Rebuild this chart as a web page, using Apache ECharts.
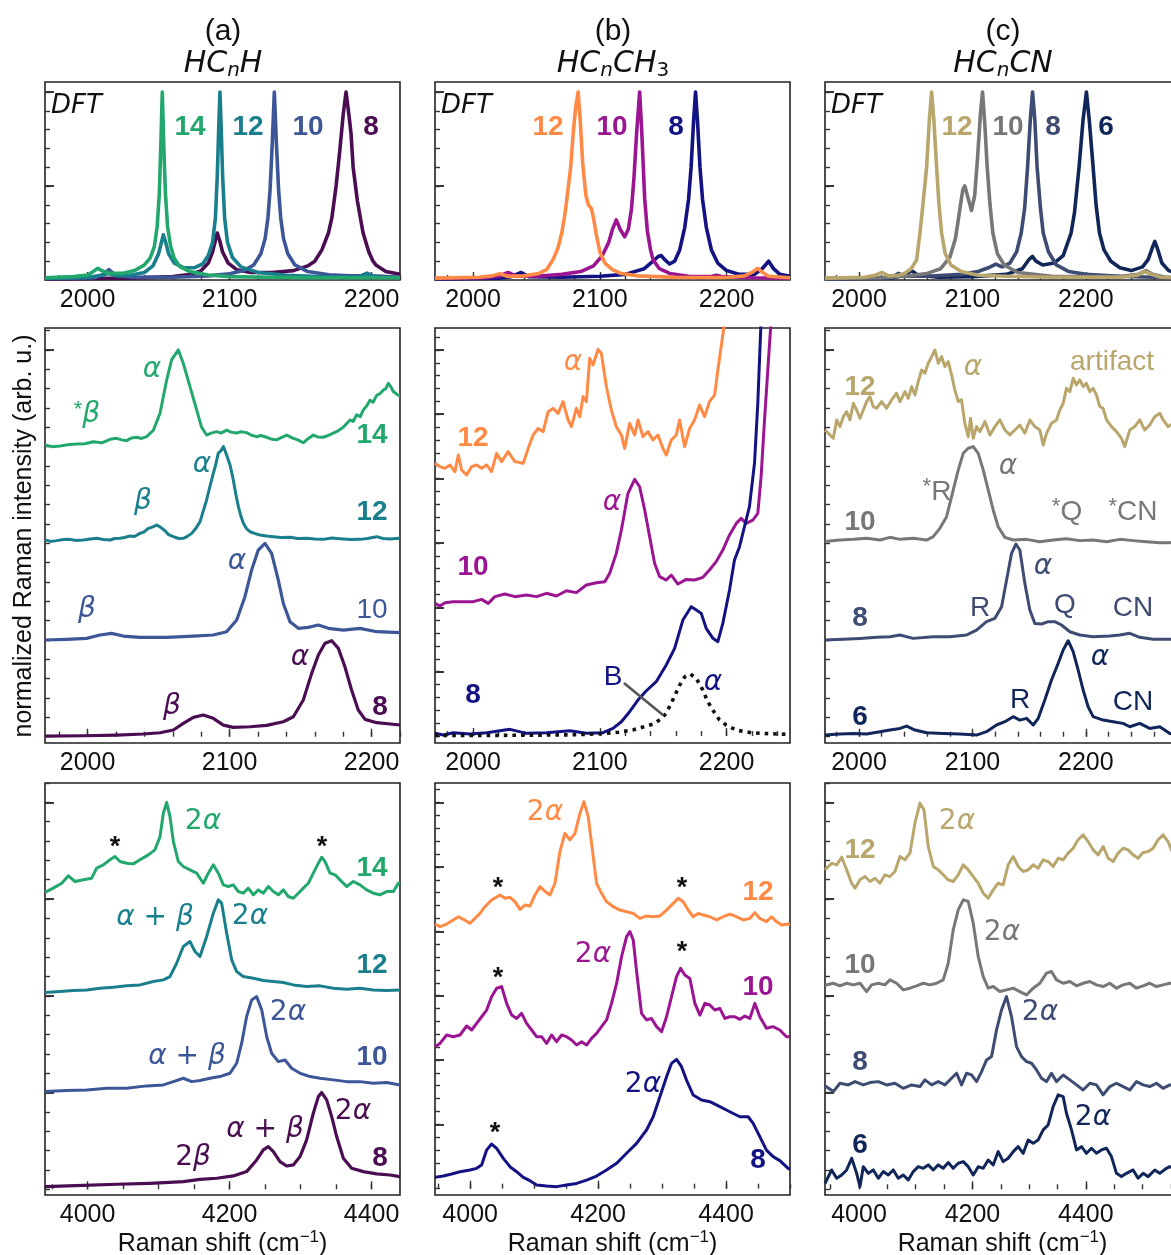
<!DOCTYPE html>
<html><head><meta charset="utf-8">
<script src="https://cdn.jsdelivr.net/npm/echarts@6/dist/echarts.min.js"></script>
<style>html,body{margin:0;padding:0;background:#fff}#c{width:1171px;height:1255px}</style>
</head><body><div id="c"></div><script>
// ---------- DFT spectra (row 1) ----------
const dftHC14 = [[1970,0.012],[1990,0.018],[2000,0.027],[2004,0.045],[2007,0.062],[2010,0.05],[2015,0.036],[2025,0.036],[2033,0.05],[2040,0.08],[2044,0.116],[2047,0.178],[2049,0.285],[2050.5,0.46],[2051.5,0.7],[2052.6,1.0],[2053.7,0.7],[2054.8,0.46],[2056.3,0.285],[2058.5,0.178],[2061,0.116],[2065,0.071],[2072,0.045],[2085,0.027],[2100,0.018],[2150,0.012],[2220,0.012]];
const dftHC12 = [[1970,0.01],[2000,0.014],[2010,0.025],[2014.6,0.035],[2020,0.022],[2030,0.025],[2040,0.04],[2046,0.075],[2050,0.14],[2052,0.2],[2053.3,0.24],[2055,0.2],[2057,0.14],[2061,0.09],[2068,0.065],[2075,0.065],[2081,0.085],[2085,0.13],[2088,0.2],[2090,0.33],[2091.3,0.55],[2092.3,0.8],[2093.2,1.0],[2094.1,0.8],[2095.1,0.55],[2096.5,0.33],[2098.5,0.2],[2102,0.12],[2108,0.07],[2120,0.04],[2140,0.025],[2170,0.016],[2190,0.016],[2194,0.025],[2196.5,0.035],[2199,0.025],[2205,0.015],[2220,0.012]];
const dftHC10 = [[1970,0.008],[2005,0.012],[2011,0.03],[2015,0.055],[2019,0.03],[2030,0.015],[2060,0.015],[2085,0.022],[2100,0.033],[2110,0.05],[2117,0.08],[2122,0.14],[2125,0.22],[2127,0.33],[2128.5,0.48],[2130,0.72],[2131.5,1.0],[2133,0.72],[2134.5,0.48],[2136,0.33],[2138,0.22],[2141,0.14],[2146,0.08],[2155,0.045],[2170,0.028],[2185,0.022],[2193,0.024],[2197,0.035],[2201,0.022],[2220,0.014]];
const dftHC8 = [[1970,0.006],[2030,0.01],[2060,0.018],[2073,0.03],[2080,0.05],[2085,0.09],[2088,0.15],[2090,0.21],[2091.3,0.25],[2093,0.21],[2095,0.15],[2099,0.09],[2105,0.055],[2115,0.04],[2130,0.04],[2145,0.05],[2155,0.075],[2160,0.1],[2165,0.16],[2169.6,0.25],[2172,0.33],[2175,0.5],[2177.5,0.68],[2180,0.88],[2182,1.0],[2184,0.88],[2185.5,0.78],[2187,0.6],[2190,0.42],[2194,0.25],[2198,0.15],[2201,0.1],[2203,0.08],[2210,0.045],[2220,0.03]];
const dftMe12 = [[1970,0.01],[2005,0.015],[2015,0.022],[2021,0.034],[2027,0.02],[2040,0.022],[2052,0.035],[2058,0.055],[2063,0.107],[2067,0.17],[2070,0.25],[2072,0.33],[2074,0.43],[2077,0.6],[2079,0.78],[2081,0.92],[2082.9,1.0],[2084.5,0.85],[2086.5,0.62],[2089,0.45],[2091,0.4],[2093.4,0.38],[2095,0.33],[2097,0.25],[2100,0.15],[2104,0.09],[2110,0.055],[2116,0.036],[2130,0.022],[2160,0.014],[2200,0.013],[2214,0.022],[2220,0.04],[2224.6,0.062],[2228,0.042],[2233,0.02],[2250,0.012]];
const dftMe10 = [[1970,0.008],[2010,0.012],[2020,0.02],[2027.7,0.04],[2034,0.02],[2050,0.02],[2070,0.03],[2085,0.045],[2095,0.075],[2102,0.13],[2107,0.2],[2110,0.27],[2113,0.32],[2116,0.27],[2119.6,0.23],[2122.5,0.27],[2125,0.38],[2127,0.55],[2129,0.78],[2131.4,1.0],[2133,0.8],[2134.3,0.6],[2135.4,0.43],[2137.5,0.26],[2140,0.16],[2142,0.107],[2147,0.06],[2155,0.035],[2170,0.02],[2188,0.018],[2192,0.025],[2196,0.018],[2220,0.012],[2250,0.01]];
const dftMe8 = [[1970,0.006],[2020,0.01],[2030,0.018],[2038,0.04],[2044,0.018],[2070,0.015],[2100,0.02],[2120,0.03],[2135,0.06],[2142,0.1],[2146,0.125],[2148.5,0.13],[2151,0.11],[2155,0.085],[2159,0.1],[2163,0.16],[2167,0.28],[2170,0.43],[2172,0.6],[2174,0.85],[2175.5,1.0],[2177,0.85],[2179,0.6],[2181,0.43],[2184,0.28],[2188,0.16],[2193,0.09],[2200,0.05],[2210,0.03],[2222,0.03],[2228,0.06],[2233.2,0.1],[2237,0.06],[2242,0.03],[2250,0.02]];
const dftCN12 = [[1970,0.01],[2005,0.015],[2014,0.025],[2020,0.04],[2026,0.022],[2035,0.025],[2040,0.035],[2046,0.06],[2050.8,0.107],[2053.7,0.25],[2056,0.38],[2059.6,0.6],[2062,0.85],[2064,1.0],[2066,0.85],[2068.4,0.6],[2070.5,0.4],[2072.8,0.25],[2076,0.14],[2081,0.08],[2090,0.045],[2105,0.025],[2130,0.02],[2170,0.015],[2230,0.015],[2245,0.025],[2252,0.045],[2258,0.03],[2266,0.015],[2283,0.012]];
const dftCN10 = [[1970,0.008],[2020,0.012],[2040,0.02],[2060,0.035],[2072,0.06],[2080,0.12],[2085,0.22],[2089,0.38],[2091.5,0.48],[2093.3,0.5],[2095.5,0.45],[2099.2,0.37],[2102,0.45],[2104.5,0.65],[2107,0.88],[2108.9,1.0],[2111,0.82],[2113,0.6],[2115.5,0.4],[2118,0.25],[2122,0.14],[2128,0.08],[2140,0.04],[2170,0.02],[2230,0.018],[2246,0.03],[2253,0.05],[2259,0.03],[2270,0.015],[2283,0.01]];
const dftCN8 = [[1970,0.006],[2020,0.01],[2030,0.018],[2034.6,0.035],[2040,0.02],[2060,0.02],[2090,0.03],[2105,0.045],[2114,0.065],[2120.7,0.085],[2126,0.07],[2133,0.09],[2139,0.15],[2143,0.25],[2146,0.38],[2148.6,0.6],[2151,0.85],[2153,1.0],[2155,0.85],[2157,0.6],[2160,0.38],[2162.4,0.25],[2167,0.15],[2174,0.08],[2185,0.045],[2200,0.03],[2230,0.02],[2260,0.015],[2283,0.012]];
const dftCN6 = [[1970,0.006],[2030,0.012],[2040,0.025],[2046.4,0.05],[2052,0.025],[2070,0.015],[2100,0.018],[2130,0.03],[2144,0.06],[2150,0.11],[2153,0.125],[2156,0.1],[2162,0.08],[2172,0.09],[2180,0.13],[2187,0.25],[2190,0.36],[2194,0.6],[2197.5,0.85],[2200.5,1.0],[2203,0.85],[2206.4,0.6],[2209,0.4],[2212,0.25],[2216,0.16],[2222,0.1],[2230,0.065],[2240,0.05],[2250,0.07],[2255,0.11],[2258.5,0.17],[2260.8,0.205],[2263.5,0.16],[2267,0.09],[2273,0.05],[2283,0.03]];

// ---------- experimental fundamentals (row 2) ----------
const expHC14 = [[1970,3.017],[1975,3.0],[1980.6,3.007],[1986,3.02],[1992.3,3.028],[1998,3.03],[2004,3.05],[2010,3.04],[2015.8,3.076],[2020.5,3.086],[2024,3.07],[2027.5,3.062],[2031,3.09],[2034.6,3.097],[2038,3.085],[2041.6,3.103],[2046.3,3.17],[2051,3.345],[2055.7,3.69],[2059.2,3.9],[2063.9,4.0],[2067.4,3.86],[2072.1,3.62],[2076.8,3.38],[2080.3,3.2],[2083.8,3.12],[2087,3.14],[2090.9,3.155],[2094,3.14],[2097.9,3.17],[2101,3.15],[2105,3.14],[2108,3.155],[2112,3.145],[2115,3.12],[2119,3.103],[2122,3.115],[2126,3.097],[2129,3.08],[2133,3.07],[2136,3.09],[2140.2,3.12],[2144.9,3.086],[2148,3.07],[2151.9,3.04],[2155,3.08],[2159,3.12],[2162,3.1],[2166,3.097],[2170,3.12],[2173,3.14],[2176,3.16],[2180,3.2],[2184.8,3.276],[2187,3.26],[2189.5,3.33],[2192,3.31],[2194.2,3.38],[2196.5,3.42],[2198.9,3.48],[2201,3.46],[2203.6,3.53],[2206,3.55],[2208.3,3.586],[2210,3.6],[2211.8,3.655],[2213.5,3.62],[2215.3,3.57],[2218.8,3.53],[2220,3.53]];
const expHC12 = [[1970,2.034],[1974,2.02],[1978.2,2.028],[1983,2.04],[1987.6,2.041],[1992,2.03],[1997,2.034],[2002,2.045],[2006.4,2.052],[2011,2.04],[2015.8,2.034],[2019,2.05],[2022.8,2.052],[2026,2.06],[2029.9,2.076],[2033,2.07],[2036.9,2.103],[2040,2.12],[2042.8,2.155],[2046,2.17],[2048.6,2.19],[2051,2.17],[2054.5,2.13],[2057,2.09],[2060.4,2.069],[2064,2.05],[2067.4,2.052],[2070,2.07],[2073.3,2.103],[2076,2.15],[2079.2,2.224],[2083.8,2.448],[2086,2.58],[2088.5,2.724],[2090,2.8],[2092,2.93],[2094,2.96],[2095.6,3.0],[2097,2.95],[2099.1,2.862],[2100.5,2.8],[2102.6,2.655],[2104.5,2.5],[2106.2,2.38],[2108,2.28],[2109.7,2.207],[2112,2.15],[2114.4,2.12],[2118,2.1],[2121.4,2.086],[2126,2.075],[2130.8,2.069],[2136,2.06],[2142.5,2.062],[2148,2.05],[2154.3,2.052],[2160,2.045],[2166,2.041],[2172,2.055],[2177.7,2.048],[2185,2.04],[2191.8,2.041],[2197,2.05],[2203.6,2.069],[2208,2.05],[2213,2.045],[2218.8,2.052],[2220,2.05]];
const expHC10 = [[1970,1.0],[1985.3,1.007],[1999.3,1.017],[2008.7,1.052],[2016.9,1.069],[2025.2,1.041],[2036.9,1.028],[2055.7,1.028],[2074.5,1.041],[2088.5,1.052],[2097.9,1.086],[2105,1.207],[2110.8,1.448],[2115.5,1.724],[2120.2,1.93],[2124.9,2.0],[2129.6,1.897],[2134.3,1.62],[2137.8,1.38],[2142.5,1.19],[2148.4,1.121],[2155.4,1.131],[2162.5,1.155],[2169.5,1.121],[2180.1,1.103],[2191.8,1.121],[2203.6,1.086],[2220,1.076]];
const expHC8 = [[1970,0.007],[1997,0.01],[2020.5,0.017],[2039.2,0.028],[2051,0.041],[2060.4,0.069],[2067.4,0.138],[2074.5,0.2],[2081.5,0.224],[2088.5,0.19],[2095.6,0.12],[2102.6,0.097],[2114.4,0.103],[2126.1,0.117],[2137.8,0.155],[2144.9,0.207],[2151.9,0.38],[2157.8,0.655],[2162.5,0.845],[2167.2,0.966],[2171.9,0.993],[2176.6,0.914],[2181.2,0.724],[2185.9,0.483],[2190.6,0.276],[2195.4,0.179],[2203.6,0.145],[2220,0.121]];
const expMe12 = [[1970,2.119],[1973.9,2.093],[1977.9,2.08],[1981.8,2.106],[1985.7,2.054],[1988.4,2.183],[1991,2.067],[1994.9,2.028],[1998.9,2.093],[2002.8,2.106],[2006.7,2.08],[2010.7,2.106],[2014.6,2.054],[2018.6,2.196],[2022.5,2.132],[2027.7,2.209],[2033,2.132],[2039.6,2.119],[2043.5,2.235],[2047.4,2.339],[2051.4,2.39],[2055.3,2.365],[2059.2,2.52],[2063.2,2.546],[2067.1,2.507],[2071,2.598],[2075,2.455],[2077.6,2.404],[2081.5,2.546],[2084.2,2.481],[2086.8,2.637],[2089.4,2.598],[2092,2.934],[2094.7,2.883],[2098.6,3.004],[2101.2,2.973],[2105.2,2.714],[2109.1,2.533],[2113,2.404],[2117,2.339],[2119.6,2.235],[2123.5,2.429],[2127.5,2.339],[2130.1,2.455],[2134,2.326],[2138,2.365],[2141.9,2.3],[2145.8,2.339],[2149.8,2.235],[2152.4,2.183],[2156.4,2.3],[2160.3,2.339],[2162.9,2.455],[2166.9,2.248],[2170.8,2.39],[2174.7,2.455],[2178.7,2.572],[2182.6,2.481],[2186.5,2.598],[2190.6,2.65],[2193.1,2.844],[2195.7,3.025],[2197.6,3.155],[2199.7,3.36],[2203,3.8]];
const expMe10 = [[1970,1.031],[1973.9,1.01],[1977.9,1.036],[1984.4,1.044],[1992.3,1.044],[2000.2,1.044],[2006.7,1.062],[2012,1.031],[2017.2,1.083],[2025.1,1.103],[2033,1.083],[2042.2,1.096],[2050.1,1.083],[2057.9,1.109],[2065.8,1.088],[2073.7,1.129],[2081.5,1.114],[2089.4,1.173],[2097.3,1.191],[2103.9,1.199],[2107.8,1.264],[2113,1.419],[2117,1.601],[2122.2,1.886],[2127.5,1.994],[2131.4,1.937],[2135.4,1.756],[2139.3,1.549],[2143.2,1.342],[2147.2,1.238],[2152.4,1.212],[2156.4,1.251],[2161.6,1.181],[2168.2,1.217],[2174.7,1.212],[2181.3,1.233],[2186.5,1.29],[2191.8,1.355],[2197,1.445],[2202.3,1.562],[2207.6,1.652],[2211.5,1.691],[2215.4,1.652],[2220.7,1.678],[2224.6,1.73],[2227.2,2.015],[2229.9,2.455],[2232.5,2.844],[2235.1,3.23],[2237.8,3.75]];
const expMe8 = [[1970,0.021],[1976.6,0.008],[1984.4,0.026],[1997.6,0.016],[2010.7,0.026],[2029.1,0.052],[2042.2,0.021],[2057.9,0.026],[2076.3,0.041],[2089.4,0.021],[2102.5,0.026],[2110.4,0.06],[2117,0.111],[2123.5,0.189],[2130.1,0.28],[2136.7,0.352],[2144.5,0.422],[2152.4,0.552],[2159,0.681],[2165.5,0.901],[2172.1,1.005],[2176.1,0.979],[2180,0.953],[2183.9,0.837],[2189.2,0.759],[2193.1,0.733],[2197,0.875],[2202.3,1.134],[2206.2,1.368],[2210.2,1.471],[2214.1,1.627],[2218,1.782],[2222,2.119],[2224.6,2.585],[2227.2,3.23],[2228.5,3.75]];
const fitAlphaMe8 = [[1970,0.005],[2000,0.005],[2040,0.006],[2080,0.01],[2100,0.018],[2115,0.03],[2126,0.047],[2134,0.07],[2142,0.093],[2148,0.13],[2152.4,0.176],[2158,0.29],[2163,0.396],[2167,0.46],[2171.3,0.482],[2176,0.45],[2181.3,0.357],[2185,0.27],[2189.2,0.2],[2194,0.13],[2199.7,0.085],[2208,0.045],[2220,0.025],[2235,0.018],[2250,0.012]];
const pointerB = [[2119,0.412],[2149.8,0.163]];
const expCN12 = [[1970,3.17],[1971.5,3.172],[1974.4,3.121],[1977.3,3.086],[1980.3,3.276],[1983.2,3.207],[1986.2,3.31],[1989.1,3.362],[1992,3.276],[1995,3.448],[1997.9,3.379],[2000.8,3.293],[2003.8,3.379],[2006.7,3.466],[2009.6,3.517],[2012.6,3.414],[2015.5,3.397],[2019.9,3.466],[2024.3,3.397],[2028.7,3.483],[2033.1,3.552],[2036.1,3.466],[2040.5,3.569],[2043.4,3.5],[2046.4,3.621],[2049.3,3.534],[2052.2,3.672],[2055.2,3.793],[2058.1,3.759],[2061,3.862],[2064,3.931],[2066.9,4.0],[2069.9,3.862],[2072.8,3.931],[2075.7,3.828],[2078.7,3.879],[2081.6,3.741],[2084.5,3.586],[2087.5,3.466],[2090.4,3.483],[2093.3,3.241],[2096.3,3.103],[2098.3,3.293],[2100.7,3.086],[2103.6,3.207],[2106.6,3.155],[2111,3.259],[2115.4,3.121],[2119.8,3.207],[2124.2,3.276],[2128.6,3.172],[2133,3.121],[2137.4,3.172],[2141.8,3.224],[2146.2,3.138],[2150.6,3.276],[2155,3.207],[2159.4,3.172],[2162.4,3.017],[2165.3,3.138],[2169.7,3.241],[2174.1,3.276],[2177,3.379],[2180,3.448],[2182.9,3.603],[2185.9,3.569],[2188.8,3.707],[2191.7,3.638],[2194.7,3.69],[2197.6,3.621],[2200.5,3.655],[2203.5,3.569],[2206.4,3.603],[2209.4,3.534],[2212.3,3.414],[2215.2,3.397],[2218.2,3.276],[2222.6,3.207],[2227,3.155],[2231.4,3.086],[2234.3,3.0],[2238.7,3.172],[2243.1,3.207],[2247.5,3.276],[2251.9,3.172],[2256.3,3.224],[2260.7,3.31],[2265.2,3.345],[2268.1,3.276],[2272.5,3.207],[2278,3.25],[2283,3.3]];
const expCN10 = [[1970,2.02],[1971.5,2.017],[1983.2,2.034],[1995,2.041],[2006.7,2.052],[2018.5,2.034],[2027.3,2.062],[2036.1,2.041],[2047.8,2.052],[2059.6,2.034],[2065.4,2.069],[2071.3,2.155],[2077.2,2.276],[2083.1,2.552],[2087.5,2.759],[2091.9,2.931],[2096.3,2.983],[2100.7,3.0],[2105.1,2.931],[2109.5,2.759],[2113.9,2.552],[2118.3,2.345],[2122.7,2.172],[2128.6,2.062],[2135.9,2.034],[2147.7,2.041],[2159.4,2.017],[2171.2,2.034],[2182.9,2.048],[2194.7,2.028],[2206.4,2.034],[2218.2,2.017],[2229.9,2.041],[2241.7,2.028],[2253.4,2.017],[2265.2,2.007],[2274,2.007],[2283,2.01]];
const expCN8 = [[1970,1.0],[1986.2,1.007],[2000.8,1.017],[2015.5,1.028],[2027.3,1.034],[2036.1,1.052],[2047.8,1.017],[2065.4,1.034],[2080.1,1.034],[2094.8,1.052],[2103.6,1.103],[2112.4,1.19],[2119.8,1.224],[2125.7,1.345],[2130.1,1.62],[2134.5,1.897],[2138.3,1.993],[2141.8,1.931],[2146.2,1.586],[2150.6,1.31],[2155,1.172],[2160.9,1.166],[2166.8,1.19],[2172.6,1.19],[2178.5,1.155],[2185.9,1.086],[2194.7,1.052],[2206.4,1.034],[2221.1,1.041],[2229.9,1.052],[2238.7,1.069],[2247.5,1.028],[2259.3,1.007],[2274,1.007],[2283,1.007]];
const expCN6 = [[1970,0.017],[1983.2,0.028],[1995,0.034],[2006.7,0.028],[2018.5,0.052],[2027.3,0.069],[2036.1,0.086],[2042,0.11],[2049.3,0.069],[2059.6,0.041],[2074.3,0.034],[2088.9,0.028],[2103.6,0.017],[2112.4,0.052],[2121.2,0.121],[2128.6,0.155],[2135.9,0.207],[2141.8,0.172],[2147.7,0.19],[2153.6,0.121],[2158,0.19],[2163.8,0.379],[2169.7,0.586],[2175.6,0.759],[2180,0.897],[2184.4,0.993],[2188.8,0.879],[2193.2,0.69],[2197.6,0.483],[2202,0.31],[2206.4,0.207],[2215.2,0.172],[2224,0.155],[2232.8,0.138],[2238.7,0.103],[2247.5,0.138],[2256.3,0.086],[2265.2,0.103],[2274,0.034],[2283,0.03]];

// ---------- experimental overtones (row 3) ----------
const ovHC14 = [[3940,3.07],[3942.3,3.078],[3951.7,3.113],[3963.5,3.164],[3972.9,3.24],[3982.3,3.182],[3994,3.199],[4005.7,3.216],[4012.8,3.32],[4022.2,3.354],[4031.5,3.406],[4038.6,3.44],[4045.6,3.388],[4055,3.371],[4064.4,3.364],[4073.8,3.406],[4085.5,3.457],[4094.9,3.509],[4102,3.647],[4106.7,3.888],[4111.3,3.999],[4116,3.854],[4120.8,3.595],[4127.8,3.388],[4134.8,3.337],[4144.2,3.302],[4153.6,3.268],[4163,3.164],[4170,3.268],[4177.1,3.354],[4184.1,3.268],[4191.2,3.147],[4198.2,3.13],[4205.3,3.147],[4212.3,3.078],[4219.3,3.061],[4226.4,3.113],[4233.4,3.044],[4240.5,3.095],[4247.5,3.061],[4254.6,3.13],[4261.6,3.078],[4268.6,3.044],[4275.7,3.095],[4282.7,3.027],[4289.8,3.009],[4296.8,3.061],[4303.8,3.113],[4310.9,3.164],[4317.9,3.268],[4325,3.371],[4329.7,3.433],[4334.4,3.388],[4341.4,3.268],[4348.5,3.251],[4355.5,3.199],[4364.9,3.13],[4374.3,3.182],[4383.7,3.147],[4393,3.095],[4402.4,3.061],[4411.8,3.044],[4421.2,3.078],[4430.6,3.078],[4437.7,3.164],[4440,3.17]];
const ovHC12 = [[3940,2.034],[3961.1,2.044],[3979.9,2.054],[3998.7,2.061],[4017.5,2.079],[4036.2,2.089],[4055,2.103],[4073.8,2.113],[4092.6,2.148],[4106.7,2.165],[4116,2.199],[4125.4,2.337],[4134.8,2.51],[4144.2,2.561],[4151.3,2.458],[4158.3,2.406],[4167.7,2.613],[4177.1,2.854],[4184.1,2.992],[4188.8,2.958],[4195.9,2.647],[4202.9,2.372],[4210,2.251],[4219.3,2.199],[4233.4,2.182],[4247.5,2.158],[4261.6,2.148],[4275.7,2.137],[4289.8,2.113],[4308.5,2.096],[4327.3,2.103],[4346.1,2.079],[4364.9,2.068],[4383.7,2.079],[4402.4,2.061],[4421.2,2.054],[4440,2.061]];
const ovHC10 = [[3940,1.01],[3970.5,1.02],[3998.7,1.027],[4026.9,1.044],[4055,1.044],[4083.2,1.069],[4106.7,1.079],[4120.8,1.113],[4134.8,1.148],[4146.6,1.113],[4158.3,1.124],[4172.4,1.148],[4186.5,1.165],[4200.6,1.2],[4210,1.303],[4217,1.51],[4224,1.786],[4231.1,1.958],[4238.1,1.992],[4245.2,1.855],[4252.2,1.579],[4259.2,1.406],[4268.6,1.32],[4278,1.337],[4287.4,1.251],[4299.2,1.2],[4313.2,1.165],[4327.3,1.148],[4346.1,1.131],[4364.9,1.113],[4383.7,1.113],[4402.4,1.096],[4421.2,1.103],[4440,1.079]];
const ovHC8 = [[3940,0.028],[3994,0.041],[4040.9,0.052],[4087.9,0.062],[4134.8,0.079],[4158.3,0.103],[4181.8,0.114],[4205.3,0.138],[4224,0.183],[4238.1,0.303],[4247.5,0.407],[4254.6,0.441],[4261.6,0.39],[4271,0.286],[4280.4,0.241],[4289.8,0.252],[4299.2,0.338],[4308.5,0.51],[4317.9,0.786],[4325,0.958],[4329.7,1.0],[4336.7,0.924],[4343.8,0.751],[4350.8,0.545],[4360.2,0.321],[4371.9,0.217],[4388.4,0.183],[4407.1,0.159],[4425.9,0.148],[4440,0.131]];
const ovMe12 = [[3945,2.056],[3952.8,2.036],[3963.2,2.056],[3973.6,2.088],[3981.5,2.113],[3989.3,2.093],[3999.7,2.062],[4007.5,2.1],[4015.3,2.139],[4023.1,2.191],[4033.5,2.243],[4046.6,2.282],[4054.4,2.256],[4062.2,2.264],[4070,2.23],[4077.8,2.17],[4085.6,2.204],[4093.4,2.196],[4101.3,2.282],[4109.1,2.347],[4116.9,2.311],[4124.7,2.282],[4132.5,2.372],[4140.3,2.619],[4148.1,2.761],[4155.9,2.71],[4163.8,2.761],[4171.6,2.916],[4177.8,3.007],[4184.6,2.89],[4189.8,2.683],[4197.6,2.372],[4205.4,2.295],[4213.2,2.23],[4223.6,2.191],[4234.1,2.165],[4244.5,2.152],[4254.9,2.139],[4265.3,2.1],[4275.7,2.119],[4286.1,2.113],[4296.6,2.119],[4307,2.165],[4317.4,2.217],[4325.2,2.256],[4333,2.23],[4340.8,2.165],[4348.6,2.113],[4356.5,2.139],[4364.3,2.126],[4374.7,2.113],[4385.1,2.088],[4395.5,2.113],[4405.9,2.134],[4416.4,2.113],[4426.8,2.088],[4437.2,2.1],[4445,2.145],[4452.8,2.1],[4463.2,2.075],[4471,2.113],[4478.8,2.075],[4486.7,2.049],[4497.1,2.056],[4500,2.05]];
const ovMe10 = [[3945,1.103],[3952.8,1.129],[3963.2,1.194],[3973.6,1.181],[3984.1,1.194],[3994.5,1.264],[4002.3,1.233],[4010.1,1.285],[4017.9,1.336],[4025.7,1.388],[4033.5,1.492],[4041.4,1.557],[4049.2,1.57],[4057,1.44],[4064.8,1.349],[4072.6,1.323],[4080.4,1.362],[4088.2,1.285],[4096,1.233],[4103.9,1.181],[4111.7,1.181],[4119.5,1.129],[4127.3,1.194],[4135.1,1.142],[4142.9,1.194],[4150.7,1.181],[4158.5,1.155],[4166.4,1.116],[4174.2,1.142],[4182,1.116],[4189.8,1.168],[4197.6,1.207],[4205.4,1.259],[4213.2,1.311],[4221,1.44],[4228.9,1.595],[4236.7,1.803],[4244.5,1.958],[4249.7,1.997],[4254.9,1.932],[4261.1,1.647],[4267.9,1.362],[4275.7,1.311],[4283.5,1.323],[4291.4,1.259],[4299.2,1.22],[4307,1.336],[4314.8,1.492],[4322.6,1.647],[4328.9,1.712],[4335.6,1.66],[4343.4,1.634],[4351.3,1.44],[4359.1,1.349],[4366.9,1.44],[4374.7,1.427],[4382.5,1.388],[4390.3,1.401],[4398.1,1.323],[4405.9,1.336],[4413.8,1.336],[4421.6,1.316],[4429.4,1.341],[4437.2,1.323],[4445,1.44],[4452.8,1.336],[4463.2,1.246],[4473.6,1.259],[4484.1,1.233],[4494.5,1.181],[4500,1.18]];
const ovMe8 = [[3945,0.088],[3958,0.098],[3971,0.114],[3984.1,0.132],[3999.7,0.145],[4010.1,0.158],[4017.9,0.184],[4025.7,0.3],[4033.5,0.347],[4041.4,0.313],[4051.8,0.236],[4062.2,0.171],[4072.6,0.132],[4083,0.088],[4093.4,0.062],[4103.9,0.028],[4119.5,0.021],[4135.1,0.016],[4150.7,0.028],[4166.4,0.041],[4182,0.067],[4197.6,0.098],[4213.2,0.145],[4228.9,0.197],[4244.5,0.275],[4260.1,0.352],[4275.7,0.456],[4286.1,0.559],[4296.6,0.715],[4307,0.87],[4314.8,0.974],[4322.6,1.005],[4330.4,0.948],[4338.2,0.844],[4348.6,0.728],[4361.7,0.689],[4374.7,0.676],[4390.3,0.637],[4405.9,0.598],[4421.6,0.559],[4434.6,0.559],[4442.4,0.508],[4452.8,0.404],[4463.2,0.3],[4473.6,0.249],[4484.1,0.218],[4497.1,0.158],[4500,0.15]];
const ovCN12 = [[3940,3.3],[3942.9,3.32],[3951.7,3.371],[3960.6,3.354],[3969.4,3.433],[3978.2,3.302],[3987,3.164],[3992.9,3.113],[4001.7,3.199],[4010.5,3.233],[4019.3,3.182],[4028.1,3.216],[4036.9,3.164],[4045.7,3.251],[4054.5,3.233],[4063.3,3.285],[4072.2,3.44],[4081,3.406],[4089.8,3.475],[4098.6,3.785],[4107.4,3.992],[4114.5,3.923],[4122.1,3.544],[4130.9,3.337],[4139.7,3.302],[4148.5,3.251],[4157.3,3.199],[4166.1,3.182],[4174.9,3.251],[4183.8,3.354],[4192.6,3.302],[4201.4,3.233],[4210.2,3.164],[4219,3.061],[4227.8,3.009],[4236.6,3.095],[4245.4,3.164],[4254.2,3.147],[4263,3.354],[4271.9,3.44],[4280.7,3.337],[4289.5,3.285],[4298.3,3.302],[4307.1,3.354],[4315.9,3.32],[4324.7,3.406],[4333.5,3.388],[4342.3,3.337],[4351.2,3.423],[4360,3.406],[4368.8,3.475],[4377.6,3.526],[4386.4,3.613],[4395.2,3.664],[4404,3.595],[4412.8,3.509],[4421.6,3.457],[4430.5,3.544],[4439.3,3.423],[4448.1,3.388],[4456.9,3.475],[4465.7,3.526],[4474.5,3.509],[4483.3,3.457],[4492.1,3.423],[4500.9,3.482],[4509.8,3.492],[4518.6,3.526],[4527.4,3.613],[4536.2,3.664],[4545,3.595],[4555,3.45],[4566,3.4]];
const ovCN10 = [[3940,2.11],[3942.9,2.113],[3954.7,2.13],[3966.4,2.103],[3978.2,2.13],[3989.9,2.113],[4001.7,2.13],[4013.4,2.044],[4022.2,2.113],[4034,2.13],[4045.7,2.113],[4054.5,2.165],[4066.3,2.13],[4078,2.061],[4089.8,2.079],[4101.5,2.103],[4113.3,2.13],[4125,2.113],[4136.8,2.13],[4148.5,2.165],[4157.3,2.337],[4166.1,2.682],[4174.9,2.889],[4183.8,2.992],[4192.6,2.975],[4201.4,2.751],[4210.2,2.406],[4219,2.199],[4227.8,2.079],[4236.6,2.096],[4248.4,2.044],[4260.1,2.061],[4271.9,2.079],[4283.6,2.044],[4295.4,2.01],[4307.1,2.079],[4318.9,2.13],[4330.6,2.234],[4339.4,2.251],[4348.2,2.165],[4360,2.13],[4371.7,2.148],[4383.5,2.103],[4395.2,2.13],[4407,2.148],[4418.7,2.113],[4430.5,2.096],[4442.2,2.13],[4454,2.079],[4465.7,2.113],[4477.5,2.13],[4489.2,2.079],[4500.9,2.103],[4512.7,2.13],[4524.4,2.096],[4536.2,2.113],[4547.9,2.13],[4566,2.12]];
const ovCN8 = [[3940,1.07],[3942.9,1.079],[3954.7,1.01],[3966.4,1.096],[3981.1,1.079],[3992.9,1.113],[4007.5,1.079],[4019.3,1.103],[4034,1.113],[4048.7,1.079],[4063.3,1.096],[4078,1.044],[4092.7,1.079],[4107.4,1.062],[4116.2,1.131],[4128,1.079],[4139.7,1.113],[4151.5,1.079],[4163.2,1.148],[4172,1.2],[4180.8,1.079],[4189.6,1.2],[4198.4,1.182],[4207.3,1.113],[4216.1,1.217],[4224.9,1.337],[4233.7,1.372],[4242.5,1.648],[4251.3,1.855],[4260.1,1.992],[4268.9,1.786],[4277.7,1.475],[4286.6,1.372],[4295.4,1.32],[4304.2,1.303],[4313,1.234],[4321.8,1.148],[4330.6,1.113],[4339.4,1.2],[4348.2,1.113],[4360,1.182],[4371.7,1.131],[4383.5,1.079],[4395.2,1.027],[4407,1.096],[4418.7,1.079],[4430.5,0.976],[4442.2,1.062],[4454,1.096],[4465.7,1.062],[4477.5,1.027],[4489.2,1.113],[4500.9,1.079],[4512.7,1.062],[4524.4,1.096],[4536.2,1.044],[4547.9,1.079],[4566,1.07]];
const ovCN6 = [[3940,0.06],[3942.9,0.062],[3951.7,0.2],[3960.6,0.114],[3969.4,0.148],[3978.2,0.2],[3987,0.321],[3995.8,0.165],[4001.7,0.028],[4007.5,0.234],[4016.4,0.165],[4025.2,0.2],[4034,0.114],[4042.8,0.183],[4051.6,0.148],[4060.4,0.2],[4069.2,0.114],[4078,0.148],[4086.8,0.097],[4095.7,0.183],[4104.5,0.234],[4113.3,0.217],[4122.1,0.252],[4130.9,0.2],[4139.7,0.252],[4148.5,0.217],[4157.3,0.276],[4166.1,0.217],[4174.9,0.269],[4183.8,0.286],[4192.6,0.234],[4201.4,0.148],[4210.2,0.234],[4219,0.217],[4227.8,0.303],[4236.6,0.252],[4245.4,0.39],[4254.2,0.286],[4263,0.321],[4271.9,0.39],[4280.7,0.441],[4289.5,0.372],[4298.3,0.51],[4307.1,0.476],[4315.9,0.51],[4324.7,0.614],[4333.5,0.665],[4342.3,0.855],[4351.2,0.976],[4360,0.958],[4365.8,0.786],[4374.7,0.614],[4383.5,0.407],[4392.3,0.441],[4401.1,0.372],[4409.9,0.424],[4418.7,0.372],[4427.5,0.407],[4436.3,0.424],[4445.1,0.338],[4454,0.165],[4462.8,0.131],[4471.6,0.165],[4483.3,0.2],[4492.1,0.114],[4500.9,0.165],[4509.8,0.131],[4521.5,0.2],[4530.3,0.165],[4542.1,0.217],[4547.9,0.234],[4566,0.2]];

// ---------- tick values ----------
const xMinorA = [1980,2000,2020,2040,2060,2080,2100,2120,2140,2160,2180,2200,2220];
const xMinorB = [1980,2000,2020,2040,2060,2080,2100,2120,2140,2160,2180,2200,2220,2240];
const xMinorC = [1980,2000,2020,2040,2060,2080,2100,2120,2140,2160,2180,2200,2220,2240,2260,2280];
const xLabels1 = [2000,2100,2200];
const xMinorA3 = [3950,4000,4050,4100,4150,4200,4250,4300,4350,4400];
const xMinorB3 = [3950,4000,4050,4100,4150,4200,4250,4300,4350,4400,4450,4500];
const xMinorC3 = [3950,4000,4050,4100,4150,4200,4250,4300,4350,4400,4450,4500,4550];
const xLabels3 = [4000,4200,4400];
const yMinorDft = [0.1,0.2,0.3,0.4,0.5,0.6,0.7,0.8,0.9,1.0];
const yMajorDft = [0.5,1.0];
const yMinor02 = [0,0.2,0.4,0.6,0.8,1,1.2,1.4,1.6,1.8,2,2.2,2.4,2.6,2.8,3,3.2,3.4,3.6,3.8,4,4.2];
const yMajorRow2 = [4];
const yMajorRow3 = [1,2,3,4];
const yMinor01 = [0,0.1,0.2,0.3,0.4,0.5,0.6,0.7,0.8,0.9,1,1.1,1.2,1.3,1.4,1.5,1.6,1.7,1.8,1.9,2,2.1,2.2,2.3,2.4,2.5,2.6,2.7,2.8,2.9,3,3.1];
const yMajor05 = [0.5,1,1.5,2,2.5,3];

// ---------- styling / layout ----------
const C = {h14:'#22a86c', h12:'#1a7f8c', h10:'#3c5697', h8:'#4a0d52',
           m12:'#ff8a45', m10:'#9b1592', m8:'#121283',
           c12:'#b9a66d', c10:'#777777', c8:'#3e4b72', c6:'#102659'};
const SANS = "'Liberation Sans', Arial, sans-serif";
const DJ = "'DejaVu Sans', sans-serif";
const colLeft = [45, 435, 825], panelW = 355;
const rowTop = [82, 328, 783], rowH = [198, 415, 412];
const panels = [
  {xr:[1970,2220], yr:[0,1.053], xm:xMinorA, xl:xLabels1, ym:yMinorDft, yM:yMajorDft},
  {xr:[1970,2250], yr:[0,1.053], xm:xMinorB, xl:xLabels1, ym:yMinorDft, yM:yMajorDft},
  {xr:[1970,2283], yr:[0,1.053], xm:xMinorC, xl:xLabels1, ym:yMinorDft, yM:yMajorDft},
  {xr:[1970,2220], yr:[-0.065,4.227], xm:xMinorA, xl:xLabels1, ym:yMinor02, yM:yMajorRow2},
  {xr:[1970,2250], yr:[-0.054,3.17], xm:xMinorB, xl:xLabels1, ym:yMinor01, yM:yMajor05},
  {xr:[1970,2283], yr:[-0.065,4.227], xm:xMinorC, xl:xLabels1, ym:yMinor02, yM:yMajorRow2},
  {xr:[3940,4440], yr:[-0.059,4.2], xm:xMinorA3, xl:xLabels3, ym:yMinor02, yM:yMajorRow3},
  {xr:[3945,4500], yr:[-0.049,3.152], xm:xMinorB3, xl:xLabels3, ym:yMinor01, yM:yMajor05},
  {xr:[3940,4566], yr:[-0.059,4.2], xm:xMinorC3, xl:xLabels3, ym:yMinor02, yM:yMajorRow3}
];
const W1 = 3.6, W2 = 3.0;
const traces = [
  [0,dftHC8,C.h8,W1],[0,dftHC10,C.h10,W1],[0,dftHC12,C.h12,W1],[0,dftHC14,C.h14,W1],
  [1,dftMe8,C.m8,W1],[1,dftMe10,C.m10,W1],[1,dftMe12,C.m12,W1],
  [2,dftCN6,C.c6,W1],[2,dftCN8,C.c8,W1],[2,dftCN10,C.c10,W1],[2,dftCN12,C.c12,W1],
  [3,expHC14,C.h14,W2],[3,expHC12,C.h12,W2],[3,expHC10,C.h10,3.2],[3,expHC8,C.h8,3.2],
  [4,expMe12,C.m12,W2],[4,expMe10,C.m10,W2],[4,expMe8,C.m8,W2],
  [5,expCN12,C.c12,W2],[5,expCN10,C.c10,W2],[5,expCN8,C.c8,W2],[5,expCN6,C.c6,W2],
  [6,ovHC14,C.h14,W2],[6,ovHC12,C.h12,W2],[6,ovHC10,C.h10,W2],[6,ovHC8,C.h8,3.2],
  [7,ovMe12,C.m12,W2],[7,ovMe10,C.m10,W2],[7,ovMe8,C.m8,W2],
  [8,ovCN12,C.c12,W2],[8,ovCN10,C.c10,W2],[8,ovCN8,C.c8,W2],[8,ovCN6,C.c6,W2]
];

const grid = [], xAxis = [], yAxis = [], series = [];
panels.forEach((p, i) => {
  const r = Math.floor(i / 3), c = i % 3;
  grid.push({left: colLeft[c], top: rowTop[r], width: panelW, height: rowH[r], show: true,
    borderColor: '#222', borderWidth: 1.6, backgroundColor: 'rgba(0,0,0,0)', containLabel: false, outerBoundsMode: 'none'});
  const tickStyle = {color: '#333', width: 1.4};
  xAxis.push({type: 'value', gridIndex: i, min: p.xr[0], max: p.xr[1], position: 'bottom',
    axisLine: {show: false}, splitLine: {show: false},
    axisTick: {show: true, inside: true, length: 8, customValues: p.xl, lineStyle: tickStyle},
    axisLabel: {show: true, customValues: p.xl, formatter: v => String(v), fontSize: 25, fontFamily: SANS, color: '#111', margin: 8},
    name: r === 2 ? 'Raman shift (cm{sup|−1})' : '', nameLocation: 'middle', nameGap: 33,
    nameTextStyle: {fontSize: 25, fontFamily: SANS, color: '#111', lineHeight: 30,
      rich: {sup: {fontSize: 17, fontFamily: SANS, color: '#111', lineHeight: 17, verticalAlign: 'top'}}}});
  xAxis.push({type: 'value', gridIndex: i, min: p.xr[0], max: p.xr[1], position: 'bottom',
    axisLine: {show: false}, splitLine: {show: false}, axisLabel: {show: false},
    axisTick: {show: true, inside: true, length: 5, customValues: p.xm, lineStyle: tickStyle}});
  yAxis.push({type: 'value', gridIndex: i, min: p.yr[0], max: p.yr[1], position: 'left',
    axisLine: {show: false}, splitLine: {show: false}, axisLabel: {show: false},
    axisTick: {show: true, inside: true, length: 9, customValues: p.yM, lineStyle: {color: '#222', width: 1.8}}});
  yAxis.push({type: 'value', gridIndex: i, min: p.yr[0], max: p.yr[1], position: 'left',
    axisLine: {show: false}, splitLine: {show: false}, axisLabel: {show: false},
    axisTick: {show: true, inside: true, length: 5, customValues: p.ym, lineStyle: tickStyle}});
});
function addLine(gi, data, color, width, type, z) {
  series.push({type: 'line', xAxisIndex: 2 * gi, yAxisIndex: 2 * gi, data: data, showSymbol: false, symbol: 'none',
    clip: true, silent: true, z: z || 2, lineStyle: {color: color, width: width, type: type || 'solid', cap: 'butt', join: 'round'}, itemStyle: {color: color}});
}
traces.forEach(t => addLine(t[0], t[1], t[2], t[3]));
addLine(4, fitAlphaMe8, '#111', 3.6, [3.6, 5], 3);
addLine(4, pointerB, '#555', 2.6, 'solid', 4);

// ---------- annotations ----------
const RICH = {
  g: {font: "italic 28px " + DJ, lineHeight: 32},
  n: {font: "28px " + DJ, lineHeight: 32},
  p: {font: "28px " + DJ, lineHeight: 32},
  r: {font: "28px " + SANS, lineHeight: 32},
  s: {font: "22px " + SANS, lineHeight: 22, verticalAlign: 'top'}
};
const RICH_T = {
  m: {font: "italic 30px " + DJ, lineHeight: 34},
  s: {font: "italic 20px " + DJ, lineHeight: 14, verticalAlign: 'bottom'},
  u: {font: "20px " + DJ, lineHeight: 14, verticalAlign: 'bottom'}
};
const notes = [
  ['(a)',223,32,'#111','title'],['{m|HC}{s|n}{m|H}',223,64,'#111','formula'],
  ['(b)',613,32,'#111','title'],['{m|HC}{s|n}{m|CH}{u|3}',613,64,'#111','formula'],
  ['(c)',1003,32,'#111','title'],['{m|HC}{s|n}{m|CN}',1003,64,'#111','formula'],
  ['DFT',51,106,'#111','dft'],['DFT',441,106,'#111','dft'],['DFT',831,106,'#111','dft'],
  ['14',190,127,C.h14,'num'],['12',248,127,C.h12,'num'],['10',308,127,C.h10,'num'],['8',371,127,C.h8,'num'],
  ['12',548,127,C.m12,'num'],['10',612,127,C.m10,'num'],['8',676,127,C.m8,'num'],
  ['12',957,127,C.c12,'num'],['10',1008,127,C.c10,'num'],['8',1053,127,C.c8,'num'],['6',1106,127,C.c6,'num'],
  ['{g|α}',152,370,C.h14,'rich'],['{s|*}{g|β}',87,415,C.h14,'rich'],['14',372,435,C.h14,'num'],
  ['{g|α}',202,465,C.h12,'rich'],['{g|β}',143,502,C.h12,'rich'],['12',372,512,C.h12,'num'],
  ['{g|α}',237,562,C.h10,'rich'],['{g|β}',87,610,C.h10,'rich'],['10',372,610,C.h10,'sans'],
  ['{g|α}',300,658,C.h8,'rich'],['{g|β}',172,707,C.h8,'rich'],['8',380,707,C.h8,'num'],
  ['{g|α}',573,363,C.m12,'rich'],['12',473,438,C.m12,'num'],
  ['{g|α}',612,503,C.m10,'rich'],['10',473,567,C.m10,'num'],
  ['8',473,695,C.m8,'num'],['B',613,677,C.m8,'sans'],['{g|α}',713,683,C.m8,'rich'],
  ['12',860,387,C.c12,'num'],['{g|α}',973,368,C.c12,'rich'],['artifact',1112,362,C.c12,'sans'],
  ['10',860,522,C.c10,'num'],['{s|*}{r|R}',937,492,C.c10,'rich'],['{g|α}',1008,467,C.c10,'rich'],
  ['{s|*}{r|Q}',1067,512,C.c10,'rich'],['{s|*}{r|CN}',1133,512,C.c10,'rich'],
  ['8',860,618,C.c8,'num'],['R',980,608,C.c8,'sans'],['{g|α}',1043,567,C.c8,'rich'],['Q',1065,605,C.c8,'sans'],['CN',1133,608,C.c8,'sans'],
  ['6',860,717,C.c6,'num'],['R',1020,700,C.c6,'sans'],['{g|α}',1100,658,C.c6,'rich'],['CN',1133,702,C.c6,'sans'],
  ['*',115,842,'#111','star'],['*',322,842,'#111','star'],['{n|2}{g|α}',203,822,C.h14,'rich'],['14',372,868,C.h14,'num'],
  ['{g|α} {p|+} {g|β}',155,918,C.h12,'rich'],['{n|2}{g|α}',250,917,C.h12,'rich'],['12',372,965,C.h12,'num'],
  ['{n|2}{g|α}',288,1013,C.h10,'rich'],['{g|α} {p|+} {g|β}',187,1057,C.h10,'rich'],['10',372,1057,C.h10,'num'],
  ['{n|2}{g|α}',353,1112,C.h8,'rich'],['{g|α} {p|+} {g|β}',265,1130,C.h8,'rich'],['{n|2}{g|β}',193,1158,C.h8,'rich'],['8',380,1158,C.h8,'num'],
  ['{n|2}{g|α}',545,813,C.m12,'rich'],['*',498,883,'#111','star'],['*',682,883,'#111','star'],['12',758,892,C.m12,'num'],
  ['{n|2}{g|α}',593,955,C.m10,'rich'],['*',682,947,'#111','star'],['*',498,973,'#111','star'],['10',758,987,C.m10,'num'],
  ['{n|2}{g|α}',643,1085,C.m8,'rich'],['*',495,1128,'#111','star'],['8',758,1160,C.m8,'num'],
  ['12',860,850,C.c12,'num'],['{n|2}{g|α}',957,822,C.c12,'rich'],
  ['10',860,965,C.c10,'num'],['{n|2}{g|α}',1002,933,C.c10,'rich'],
  ['8',860,1062,C.c8,'num'],['{n|2}{g|α}',1040,1013,C.c8,'rich'],
  ['6',860,1145,C.c6,'num'],['{n|2}{g|α}',1093,1118,C.c6,'rich']
];
function textEl(n) {
  let [txt, x, y, color, kind] = n;
  const st = {text: txt, fill: color, align: 'center', verticalAlign: 'middle', textAlign: 'center', textVerticalAlign: 'middle'};
  if (kind === 'num') st.font = "bold 28px " + SANS;
  else if (kind === 'sans') st.font = "28px " + SANS;
  else if (kind === 'star') { st.font = "bold 27px " + SANS; y += 6; }
  else if (kind === 'dft') { st.font = "italic 26px " + DJ; st.align = 'left'; st.textAlign = 'left'; }
  else if (kind === 'title') st.font = "30px " + SANS;
  else if (kind === 'formula') { st.font = "italic 30px " + DJ; st.rich = RICH_T; }
  else { st.font = "28px " + DJ; st.rich = RICH; }
  return {type: 'text', x: x, y: y, z: 50, silent: true, style: st};
}
const elements = notes.map(textEl);
elements.push({type: 'text', x: 24, y: 536, rotation: Math.PI / 2, z: 50, silent: true,
  style: {text: 'normalized Raman intensity (arb. u.)', fill: '#111', font: "25px " + SANS,
    align: 'center', verticalAlign: 'middle', textAlign: 'center', textVerticalAlign: 'middle'}});

const chart = echarts.init(document.getElementById('c'), null, {renderer: 'canvas'});
chart.setOption({
  animation: false, backgroundColor: '#ffffff',
  grid: grid, xAxis: xAxis, yAxis: yAxis, series: series,
  graphic: {elements: elements}
});
</script></body></html>
